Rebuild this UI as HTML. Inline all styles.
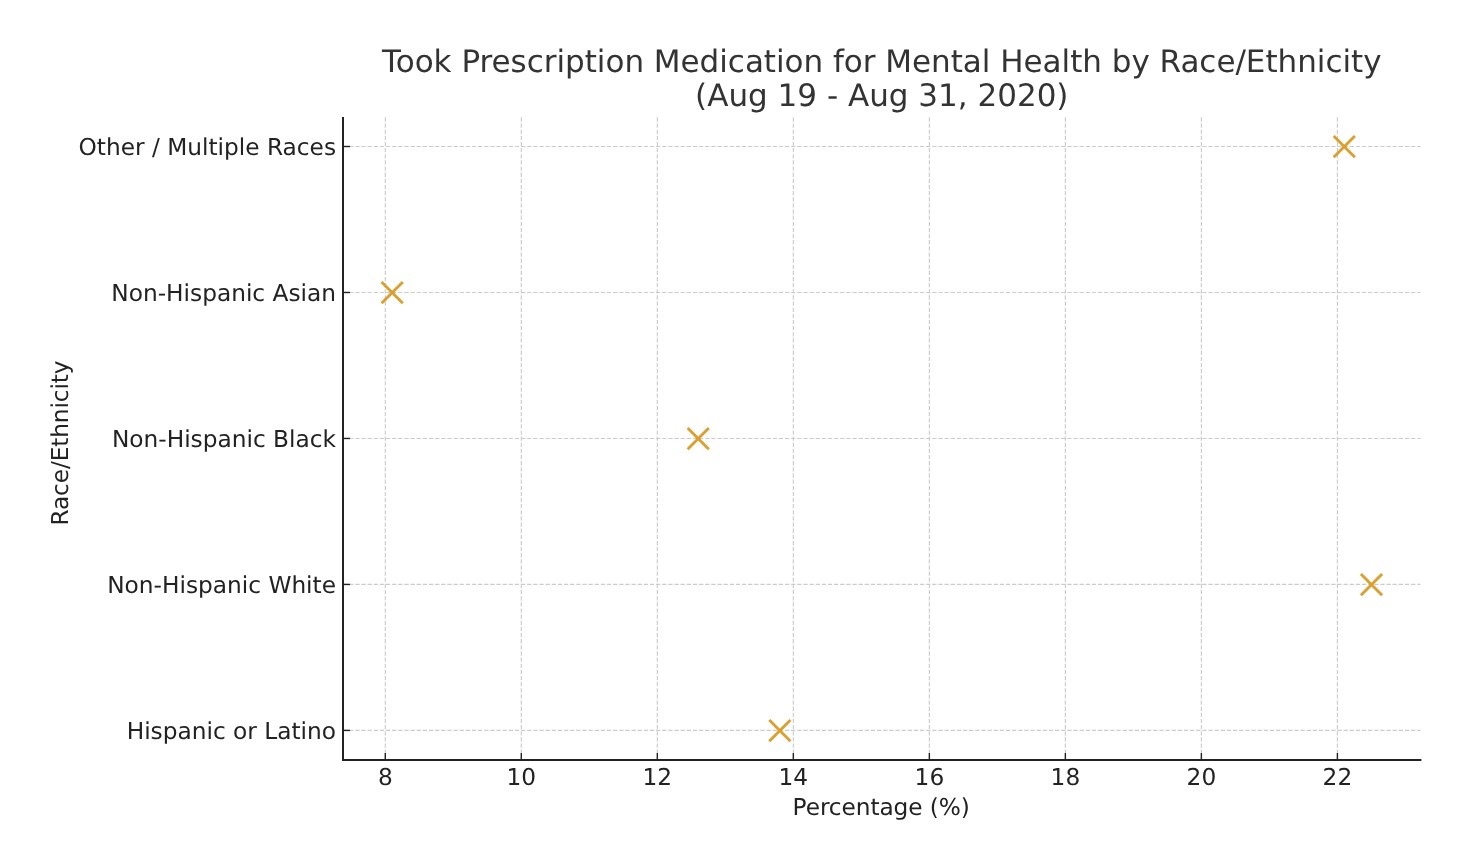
<!DOCTYPE html>
<html lang="en"><head><meta charset="utf-8"><title>Took Prescription Medication for Mental Health by Race/Ethnicity</title>
<style>html,body{margin:0;padding:0;background:#fff;}svg{display:block;}text{text-rendering:geometricPrecision;font-family:"DejaVu Sans","Liberation Sans",sans-serif;}</style></head><body>
<svg width="1484" height="856" viewBox="0 0 1484 856">
<rect width="1484" height="856" fill="#ffffff"/>
<g stroke="#cccccc" stroke-width="1.16" stroke-dasharray="4.285 1.853" fill="none">
<path d="M385.30 760.0V117.0"/>
<path d="M521.31 760.0V117.0"/>
<path d="M657.33 760.0V117.0"/>
<path d="M793.34 760.0V117.0"/>
<path d="M929.36 760.0V117.0"/>
<path d="M1065.37 760.0V117.0"/>
<path d="M1201.38 760.0V117.0"/>
<path d="M1337.40 760.0V117.0"/>
<path d="M343.0 730.42H1420.5"/>
<path d="M343.0 584.44H1420.5"/>
<path d="M343.0 438.46H1420.5"/>
<path d="M343.0 292.48H1420.5"/>
<path d="M343.0 146.50H1420.5"/>
</g>
<g stroke="#222222" stroke-width="1.4" fill="none">
<path d="M385.30 760.0v-7"/>
<path d="M521.31 760.0v-7"/>
<path d="M657.33 760.0v-7"/>
<path d="M793.34 760.0v-7"/>
<path d="M929.36 760.0v-7"/>
<path d="M1065.37 760.0v-7"/>
<path d="M1201.38 760.0v-7"/>
<path d="M1337.40 760.0v-7"/>
<path d="M343.0 730.42h7"/>
<path d="M343.0 584.44h7"/>
<path d="M343.0 438.46h7"/>
<path d="M343.0 292.48h7"/>
<path d="M343.0 146.50h7"/>
</g>
<g stroke="#d8961a" stroke-opacity="0.9" stroke-width="2.9" fill="none">
<path d="M769.24 719.97l21.2 21.2m0 -21.2l-21.2 21.2"/>
<path d="M1360.90 573.99l21.2 21.2m0 -21.2l-21.2 21.2"/>
<path d="M687.63 428.01l21.2 21.2m0 -21.2l-21.2 21.2"/>
<path d="M381.60 282.03l21.2 21.2m0 -21.2l-21.2 21.2"/>
<path d="M1333.70 136.05l21.2 21.2m0 -21.2l-21.2 21.2"/>
</g>
<path d="M343.0 117.0V760.0H1421.4" stroke="#222222" stroke-width="2" fill="none" stroke-linejoin="miter"/>
<path d="M342.0 760.0h1" stroke="#222222" stroke-width="2" fill="none"/>
<g fill="#222222" font-size="23.25px">
<text x="385.3" y="784.6" text-anchor="middle">8</text>
<text x="521.3" y="784.6" text-anchor="middle">10</text>
<text x="657.3" y="784.6" text-anchor="middle">12</text>
<text x="793.3" y="784.6" text-anchor="middle">14</text>
<text x="929.4" y="784.6" text-anchor="middle">16</text>
<text x="1065.4" y="784.6" text-anchor="middle">18</text>
<text x="1201.4" y="784.6" text-anchor="middle">20</text>
<text x="1337.4" y="784.6" text-anchor="middle">22</text>
<text x="336.0" y="739.2" text-anchor="end">Hispanic or Latino</text>
<text x="336.0" y="593.2" text-anchor="end">Non-Hispanic White</text>
<text x="336.0" y="447.3" text-anchor="end">Non-Hispanic Black</text>
<text x="336.0" y="301.3" text-anchor="end">Non-Hispanic Asian</text>
<text x="336.0" y="155.3" text-anchor="end">Other / Multiple Races</text>
<text x="881.20" y="815" text-anchor="middle" textLength="177.2">Percentage (%)</text>
<text transform="translate(68 443.0) rotate(-90)" text-anchor="middle" textLength="165.2">Race/Ethnicity</text>
</g>
<g fill="#333333" font-size="31px" text-anchor="middle">
<text x="881.8" y="71.5" textLength="999.4">Took Prescription Medication for Mental Health by Race/Ethnicity</text>
<text x="881.8" y="105.9">(Aug 19 - Aug 31, 2020)</text>
</g>
</svg></body></html>
